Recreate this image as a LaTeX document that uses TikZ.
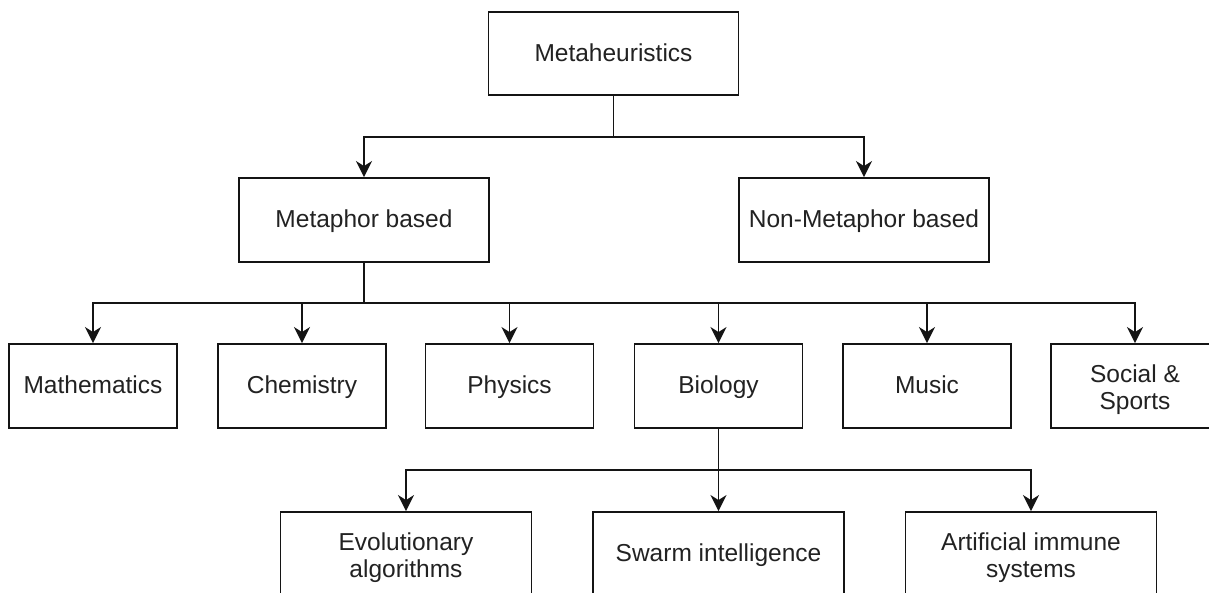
\documentclass[tikz,border=0pt]{standalone}
\usepackage{fontspec}
\setmainfont{Liberation Sans}
\usetikzlibrary{arrows.meta}
\definecolor{txt}{HTML}{222222}
\definecolor{ln}{HTML}{141414}
\newcommand{\twolines}[2]{\raisebox{-5pt}[\height][\depth]{\begin{tabular}{@{}c@{}}#1\\#2\end{tabular}}}
\tikzset{
  box/.style={draw=ln, line width=1.9pt, fill=white, inner sep=0pt, align=center,
    text=txt, font=\fontsize{24.5}{27}\selectfont},
  one/.style={text height=21pt, text depth=5.8pt},
  wide/.style={box, minimum width=250pt, minimum height=84pt},
  small/.style={box, minimum width=168pt, minimum height=84pt},
  link/.style={draw=ln, line width=1.9pt},
  arr/.style={link, -{Stealth[length=16pt, width=16pt, inset=5pt]}}
}
\begin{document}
\begin{tikzpicture}[x=1pt, y=-1pt]
\useasboundingbox (0,0) rectangle (1209,592);
% nodes
\node[wide, one, minimum height=83pt] (meta) at (613.5,53.5) {Metaheuristics};
\node[wide, one] (mb) at (364,220) {Metaphor based};
\node[wide, one] (nmb) at (864,220) {Non-Metaphor based};
\node[small, one] (math) at (93,386) {Mathematics};
\node[small, one] (chem) at (302,386) {Chemistry};
\node[small, one] (phys) at (509.5,386) {Physics};
\node[small, one] (bio) at (718.5,386) {Biology};
\node[small, one] (mus) at (927,386) {Music};
\node[small] (soc) at (1135,386) {\twolines{Social \&}{Sports}};
\node[wide, minimum width=251pt] (evo) at (406,554) {\twolines{Evolutionary}{algorithms}};
\node[wide, one, minimum width=251pt] (swarm) at (718.5,554) {Swarm intelligence};
\node[wide, minimum width=251pt] (ais) at (1031,554) {\twolines{Artificial immune}{systems}};
% junctions
\coordinate (j1) at (613.5,137);
\coordinate (j2) at (364,303);
\coordinate (j3) at (718.5,470);
% connectors
\draw[link] (meta.south) -- (j1);
\draw[arr] (j1) -| (mb.north);
\draw[arr] (j1) -| (nmb.north);
\draw[link] (mb.south) -- (j2);
\foreach \n in {math,chem,phys,bio,mus,soc}{
  \draw[arr] (j2) -| (\n.north);
}
\draw[link] (bio.south) -- (j3);
\draw[arr] (j3) -| (evo.north);
\draw[arr] (j3) -- (swarm.north);
\draw[arr] (j3) -| (ais.north);
\end{tikzpicture}
\end{document}
